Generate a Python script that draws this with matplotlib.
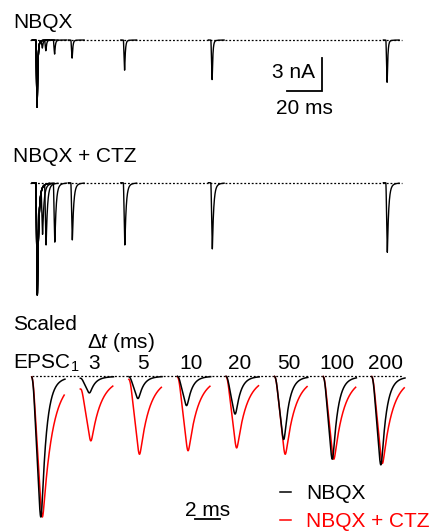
import numpy as np
import matplotlib
matplotlib.use('Agg')
import matplotlib.pyplot as plt

plt.rcParams['font.family'] = ['Liberation Sans', 'DejaVu Sans']
plt.rcParams['mathtext.fontset'] = 'custom'
plt.rcParams['mathtext.rm'] = 'Liberation Sans'
plt.rcParams['mathtext.it'] = 'Liberation Sans:italic'

# paired-pulse intervals (ms)
intervals = [3, 5, 10, 20, 50, 100, 200]
# EPSC2 peak / EPSC1 peak
ratio_nbqx = [0.12, 0.16, 0.21, 0.27, 0.45, 0.59, 0.63]
ratio_ctz = [0.46, 0.555, 0.53, 0.51, 0.555, 0.59, 0.62]
# EPSC1 amplitude (nA)
epsc1_nbqx = 6.1
epsc1_ctz = 10.2

# waveform kinetics (ms): rise time, fast decay tau, slow decay tau, slow fraction
kin_nbqx = (0.64, 0.4, 2.0, 0.03)
kin_ctz = (0.74, 0.75, 3.0, 0.06)

W, H = 435, 531
fig = plt.figure(figsize=(W / 100, H / 100), dpi=100)


def px_rect(x0, y0, x1, y1):
    return [x0 / W, 1 - y1 / H, (x1 - x0) / W, (y1 - y0) / H]


_cache = {}


def kernel(t, kin):
    # linear rise, two-exponential decay, lightly smoothed; peak = 1
    if kin not in _cache:
        rise, tf, ts, fs = kin
        g = np.arange(-1, 40, 0.002)
        dec = (1 - fs) * np.exp(-(g - rise) / tf) + fs * np.exp(-(g - rise) / ts)
        base = np.where(g < rise, np.clip(g, 0, None) / rise, dec)
        sig = 0.08
        kx = np.arange(-4 * sig, 4 * sig + 1e-9, 0.002)
        kk = np.exp(-0.5 * (kx / sig) ** 2)
        sm = np.convolve(base, kk / kk.sum(), mode='same')
        _cache[kin] = (g, sm / sm.max())
    g, sm = _cache[kin]
    return np.interp(t, g, sm, left=0, right=0)


def t_peak(kin):
    kernel(0.0, kin)
    g, sm = _cache[kin]
    return g[np.argmax(sm)]


def second_amp(ratio, dt, kin):
    # amplitude of the EPSC2 component so that the summed peak matches the ratio
    return ratio - kernel(dt + t_peak(kin), kin)


def sweep(t, dt, ratio, kin):
    return kernel(t, kin) + second_amp(ratio, dt, kin) * kernel(t - dt, kin)


def top_panel(ax, amp, ratios, kin):
    for dt, r in zip(intervals, ratios):
        t = np.arange(-2, dt + 7.5, 0.01)
        y = -amp * sweep(t, dt, r, kin)
        y[(t > 7.5) & (t < dt - 1.5)] = np.nan
        ax.plot(t, y, color='k', lw=1.0)
    ax.hlines(0, -3.4, 209, colors='k', linestyles=(0, (1.5, 1.5)), lw=0.9, zorder=0)
    ax.axis('off')


# ---- top: NBQX
ax1 = fig.add_axes(px_rect(20, 28, 420, 120))
ax1.set_xlim(-9.14, 219.43)
ax1.set_ylim(-7.27, 1.09)
top_panel(ax1, epsc1_nbqx, ratio_nbqx, kin_nbqx)
fig.text(13 / W, 1 - 22 / H, 'NBQX', fontsize=15, va='center', ha='left')

# scale bar 20 ms / 3 nA
ax1.plot([143.4, 163.4, 163.4], [-4.64, -4.64, -1.64], color='k', lw=1.3,
         solid_joinstyle='miter')
ax1.text(159.6, -2.95, '3 nA', fontsize=15, ha='right', va='center')
ax1.text(153.4, -6.2, '20 ms', fontsize=15, ha='center', va='center')

# ---- middle: NBQX + CTZ
ax2 = fig.add_axes(px_rect(20, 165, 420, 305))
ax2.set_xlim(-9.14, 219.43)
ax2.set_ylim(-11.12, 1.61)
top_panel(ax2, epsc1_ctz, ratio_ctz, kin_ctz)
fig.text(13 / W, 1 - 157 / H, 'NBQX + CTZ', fontsize=15, va='center', ha='left')

# ---- bottom: scaled EPSCs
ax3 = fig.add_axes(px_rect(20, 300, 420, 528))
ax3.set_xlim(-1.04, 30.96)
ax3.set_ylim(-1.078, 0.539)
ax3.axis('off')
spacing = 3.886
ax3.hlines(0, -0.1, 29.5, colors='k', linestyles=(0, (1.5, 1.5)), lw=0.9, zorder=0)

tb = np.arange(-0.1, 2.56, 0.005)
tr_ = np.arange(-0.1, 2.5, 0.005)
h_r = h_b = None
for i in range(len(intervals) + 1):
    off = i * spacing
    if i == 0:
        yb = -kernel(tb, kin_nbqx)
        yr = -kernel(tr_, kin_ctz)
    else:
        dt = intervals[i - 1]
        yb = -sweep(tb + dt, dt, ratio_nbqx[i - 1], kin_nbqx)
        yr = -sweep(tr_ + dt, dt, ratio_ctz[i - 1], kin_ctz)
        ax3.text(off + 1.0, 0.092, str(dt), fontsize=15, ha='center', va='center')
    h_r, = ax3.plot(tr_ + off, yr, color='#ff0000', lw=1.1)
    h_b, = ax3.plot(tb + off, yb, color='k', lw=1.1)

fig.text(13 / W, 1 - 325 / H, 'Scaled', fontsize=15, va='center', ha='left')
fig.text(13 / W, 1 - 363 / H, r'EPSC$_1$', fontsize=15, va='center', ha='left')
ax3.text(spacing + 0.4, 0.241, r'$\Delta\mathit{t}$ (ms)', fontsize=15, ha='left', va='center')

# 2 ms scale bar
ax3.plot([12.96, 14.96], [-1.014, -1.014], color='k', lw=1.3)
ax3.text(13.96, -1.02, '2 ms', fontsize=15, ha='center', va='bottom')

ax3.legend([h_b, h_r], ['NBQX', 'NBQX + CTZ'], loc='upper left',
           bbox_to_anchor=(280 / W, 1 - 484 / H), bbox_transform=fig.transFigure,
           frameon=False, fontsize=15, handlelength=0.55, handletextpad=0.7,
           labelspacing=0.45, borderpad=0, borderaxespad=0, labelcolor='linecolor')

fig.savefig('out.png', dpi=100)
